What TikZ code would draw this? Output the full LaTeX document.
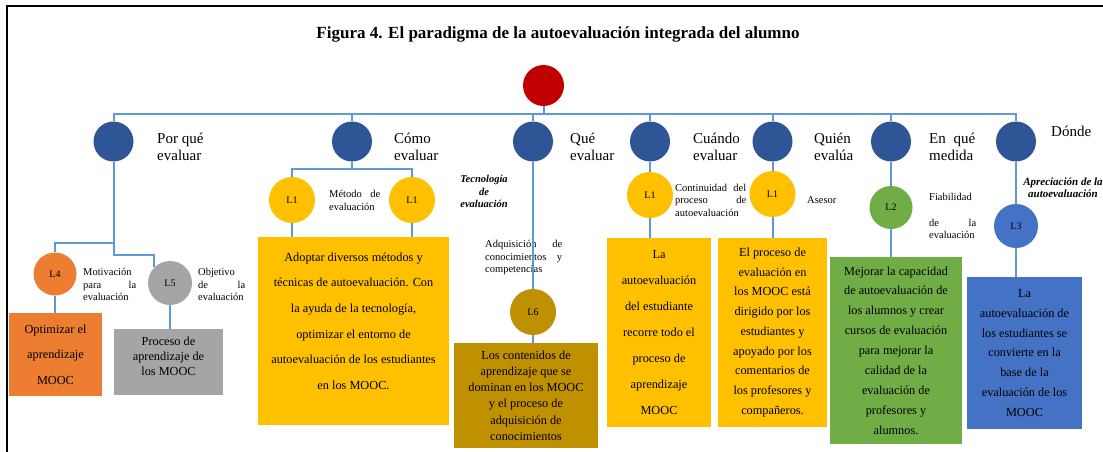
\documentclass[tikz,border=0pt]{standalone}
\usepackage{fontspec}
\setmainfont{Liberation Serif}
\definecolor{navy}{HTML}{2F5597}
\definecolor{rootred}{HTML}{C00000}
\definecolor{amber}{HTML}{FFC000}
\definecolor{tangerine}{HTML}{ED7D31}
\definecolor{ash}{HTML}{A5A5A5}
\definecolor{ochre}{HTML}{BF9000}
\definecolor{leaf}{HTML}{70AD47}
\definecolor{sky}{HTML}{4472C4}
\definecolor{linkblue}{HTML}{5B9BD5}
\tikzset{
  link/.style={draw=linkblue, line width=2pt},
  topq/.style={circle, fill=navy, minimum size=40pt, inner sep=0pt},
  lvl/.style={circle, inner sep=0pt, font=\fontsize{10}{12}\selectfont},
  card/.style={rectangle, inner sep=0pt, align=center, font=\fontsize{12.3}{#1}\selectfont},
  qlabel/.style={anchor=west, inner sep=0pt, align=left, font=\fontsize{15}{17}\selectfont},
  note/.style={anchor=west, inner sep=0pt, align=left, font=\fontsize{10.5}{12.5}\selectfont},
  tech/.style={inner sep=0pt, align=center, font=\bfseries\itshape},
}

\begin{document}
\begin{tikzpicture}[x=1pt, y=-1pt]
  \useasboundingbox (0,0) rectangle (1103,452);
  \fill[white] (0,0) rectangle (1103,452);
  \draw[line width=1.5pt] (7,452) -- (7,6) -- (1103,6);
  \node[font=\fontsize{17}{20}\selectfont\bfseries] (title) at (558,34) {Figura 4. El paradigma de la autoevaluación integrada del alumno};

  \node[circle, fill=rootred, minimum size=41pt, inner sep=0pt] (root) at (543.5,85.5) {};
  \coordinate (bar) at (0,113.5);

  % first level
  \node[topq] (pq) at (113.5,141.5) {};
  \node[topq] (como) at (352,141.5) {};
  \node[topq] (que) at (533,141.5) {};
  \node[topq] (cuando) at (650,141.5) {};
  \node[topq] (quien) at (772.5,141.5) {};
  \node[topq] (enque) at (891,141.5) {};
  \node[topq] (donde) at (1016,141.5) {};
  \foreach \n in {pq,como,que,cuando,quien,enque,donde}
    \draw[link] (root.south) -- (root.south |- bar) -| (\n.north);

  \node[qlabel] (pqlab) at (157,146.5) {Por qué\\evaluar};
  \node[qlabel] (comolab) at (394,146.5) {Cómo\\evaluar};
  \node[qlabel] (quelab) at (570,146.5) {Qué\\evaluar};
  \node[qlabel] (cuandolab) at (693,146.5) {Cuándo\\evaluar};
  \node[qlabel] (quienlab) at (814,146.5) {Quién\\evalúa};
  \node[qlabel, text width=46pt] (enquelab) at (929,146.5) {En\hfill qué\\medida};
  \node[qlabel] (dondelab) at (1051,131) {Dónde};

  % second level
  \node[lvl, fill=amber, minimum size=46pt] (cmA) at (292,200) {L1};
  \node[lvl, fill=amber, minimum size=46pt] (cmB) at (412,200) {L1};
  \node[lvl, fill=amber, minimum size=46pt] (cdL) at (650,195) {L1};
  \node[lvl, fill=amber, minimum size=46pt] (qnL) at (772.5,194) {L1};
  \node[lvl, fill=leaf, minimum size=43pt] (emL) at (891,207.5) {L2};
  \node[lvl, fill=sky, minimum size=44pt] (dnL) at (1016,226) {L3};
  \node[lvl, fill=tangerine, minimum size=43pt] (pqA) at (55,274) {L4};
  \node[lvl, fill=ash, minimum size=44pt] (pqB) at (170,283) {L5};
  \node[lvl, fill=ochre, minimum size=46pt] (quL) at (533,312) {L6};

  \node[note, text width=53pt] (motiv) at (83,284.5) {Motivación\\para\hfill la\\evaluación};
  \node[note, text width=47pt] (objet) at (198,284.5) {Objetivo\\de\hfill la\\evaluación};
  \node[note, text width=51pt] (metodo) at (329,200.5) {Método\hfill de\\evaluación};
  \node[note, text width=71pt] (contin) at (675,200) {Continuidad\hfill del\\proceso\hfill de\\autoevaluación};
  \node[note, text width=77pt] (adqui) at (485,257.5) {Adquisición\hfill de\\conocimientos\hfill y\\competencias};
  \node[note, text width=47pt] (fiab) at (929,216) {Fiabilidad\\[13.5pt]de\hfill la\\evaluación};
  \node[note] (asesor) at (807,200) {Asesor};
  \node[tech, font=\fontsize{10.5}{12.5}\selectfont\bfseries\itshape] (tecno) at (484,191.5) {Tecnología\\de\\evaluación};
  \node[tech, font=\fontsize{11}{11.5}\selectfont\bfseries\itshape] (aprec) at (1063,187.5) {Apreciación de la\\autoevaluación};

  % boxes
  \node[card=25.7, fill=tangerine, minimum width=93pt, minimum height=83pt] (obox) at (55.5,354.5) {Optimizar el\\aprendizaje\\MOOC};
  \node[card=15, fill=ash, minimum width=109pt, minimum height=66pt, text depth=12pt] (gybox) at (168.5,362) {Proceso de\\aprendizaje de\\los MOOC};
  \node[card=25.6, fill=amber, minimum width=191pt, minimum height=188pt, text depth=20pt] (cmbox) at (353.5,331) {Adoptar diversos métodos y\\técnicas de autoevaluación. Con\\la ayuda de la tecnología,\\optimizar el entorno de\\autoevaluación de los estudiantes\\en los MOOC.};
  \node[card=16.2, fill=ochre, minimum width=144pt, minimum height=105pt] (l6box) at (526,395.5) {Los contenidos de\\aprendizaje que se\\dominan en los MOOC\\y el proceso de\\adquisición de\\conocimientos};
  \node[card=26, fill=amber, minimum width=104pt, minimum height=189pt] (cdbox) at (659,332.5) {La\\autoevaluación\\del estudiante\\recorre todo el\\proceso de\\aprendizaje\\MOOC};
  \node[card=19.75, fill=amber, minimum width=109pt, minimum height=189pt] (qnbox) at (772.5,332.5) {El proceso de\\evaluación en\\los MOOC está\\dirigido por los\\estudiantes y\\apoyado por los\\comentarios de\\los profesores y\\compañeros.};
  \node[card=19.9, fill=leaf, minimum width=132pt, minimum height=187pt] (gbox) at (896,350.5) {Mejorar la capacidad\\de autoevaluación de\\los alumnos y crear\\cursos de evaluación\\para mejorar la\\calidad de la\\evaluación de\\profesores y\\alumnos.};
  \node[card=19.7, fill=sky, minimum width=115pt, minimum height=152pt] (bbox) at (1024.5,353) {La\\autoevaluación de\\los estudiantes se\\convierte en la\\base de la\\evaluación de los\\MOOC};

  % connectors below first level
  \coordinate (pqa) at (113.5,243);
  \coordinate (pqb) at (113.5,255);
  \draw[link] (pq.south) -- (pqb) -| (pqB.north west);
  \draw[link] (pqa) -| (pqA.north);
  \coordinate (comoj) at (352,169);
  \draw[link] (como.south) -- (comoj) -| (cmA.north);
  \draw[link] (comoj) -| (cmB.north);
  \draw[link] (que.south) -- (quL.north);
  \draw[link] (cuando.south) -- (cdL.north);
  \draw[link] (quien.south) -- (qnL.north);
  \draw[link] (enque.south) -- (emL.north);
  \draw[link] (donde.south) -- (dnL.north);
  \draw[link] (pqA.south) -- (pqA.south |- obox.north);
  \draw[link] (pqB.south) -- (pqB.south |- gybox.north);
  \draw[link] (cmA.south) -- (cmA.south |- cmbox.north);
  \draw[link] (cmB.south) -- (cmB.south |- cmbox.north);
  \draw[link] (quL.south) -- (quL.south |- l6box.north);
  \draw[link] (cdL.south) -- (cdL.south |- cdbox.north);
  \draw[link] (qnL.south) -- (qnL.south |- qnbox.north);
  \draw[link] (emL.south) -- (emL.south |- gbox.north);
  \draw[link] (dnL.south) -- (dnL.south |- bbox.north);
\end{tikzpicture}
\end{document}
